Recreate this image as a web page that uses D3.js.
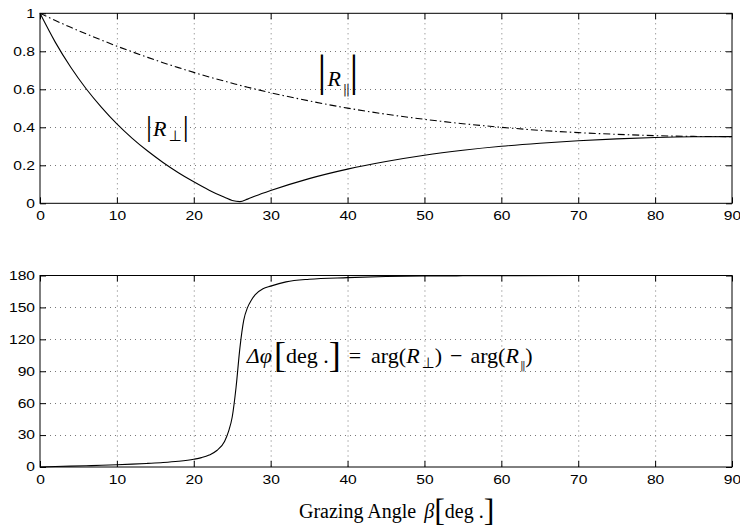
<!DOCTYPE html>
<html><head><meta charset="utf-8">
<script src="https://cdn.jsdelivr.net/npm/d3@7"></script>
<style>body{margin:0;background:#fff}svg{display:block}</style>
</head><body>
<svg id="c" width="740" height="529"></svg>
<script>
// ---- data ----
const angles = [0,2,4,6,8,10,12,14,16,18,20,22,24,25,26,27,28,30,35,40,45,50,55,60,65,70,75,80,85,90];
const rPerp  = [1,0.847,0.716,0.603,0.505,0.418,0.342,0.275,0.215,0.161,0.113,0.069,0.032,0.015,0.009,0.022,0.038,0.067,0.130,0.180,0.220,0.253,0.279,0.300,0.316,0.329,0.339,0.346,0.350,0.351];
const rPar   = [1,0.962,0.926,0.892,0.859,0.827,0.797,0.768,0.740,0.714,0.689,0.665,0.643,0.632,0.621,0.611,0.601,0.582,0.539,0.501,0.469,0.442,0.419,0.400,0.384,0.372,0.363,0.356,0.352,0.351];
const phaseAngles = [0,2,4,6,8,10,12,14,16,18,20,21,22,23,24,24.5,25,25.5,26,26.5,27,27.5,28,29,30,32,35,40,45,50,55,60,62,70,80,90];
const phaseDiff   = [0,0.4,0.8,1.2,1.6,2.1,2.7,3.4,4.2,5.4,7.3,8.8,11.2,15.5,24,33,47,75,112,138,150,157,162,167.5,170,174,176.5,178,179,179.5,179.7,179.8,179.9,180,180,180];
const xTicks = [0,10,20,30,40,50,60,70,80,90];
const yTicksTop = [0,0.2,0.4,0.6,0.8,1];
const yTickLabelsTop = ["0","0.2","0.4","0.6","0.8","1"];
const yTicksBottom = [0,30,60,90,120,150,180];

// ---- layout ----
const svg = d3.select("#c");
const L = 40, R = 732;
const panels = [
  {top: 13.3, bottom: 203.3, domain: [0,1], ticks: yTicksTop, labels: yTickLabelsTop},
  {top: 275.5, bottom: 467, domain: [0,180], ticks: yTicksBottom, labels: yTicksBottom.map(String)}
];
const x = d3.scaleLinear().domain([0,90]).range([L,R]);

function stretch(sel){
  sel.each(function(){
    const w = this.getComputedTextLength();
    d3.select(this).attr("textLength", w*1.3).attr("lengthAdjust","spacingAndGlyphs");
  });
}

const ys = panels.map(p => {
  const y = d3.scaleLinear().domain(p.domain).range([p.bottom, p.top]);
  const g = svg.append("g");
  g.append("g").selectAll("line").data(xTicks.slice(1,-1)).join("line")
    .attr("x1", d=>x(d)+0.5).attr("x2", d=>x(d)+0.5)
    .attr("y1", p.top).attr("y2", p.bottom)
    .attr("stroke","#777").attr("stroke-dasharray","1,4");
  g.append("g").selectAll("line").data(p.ticks.slice(1,-1)).join("line")
    .attr("y1", d=>Math.round(y(d))+0.5).attr("y2", d=>Math.round(y(d))+0.5)
    .attr("x1", L).attr("x2", R)
    .attr("stroke","#777").attr("stroke-dasharray","1,4");
  const font = "'Liberation Sans', Arial, sans-serif";
  const ax = g.append("g").attr("transform",`translate(0,${p.bottom})`)
    .call(d3.axisBottom(x).tickValues(xTicks).tickSizeInner(-6).tickSizeOuter(0).tickPadding(8));
  const ay = g.append("g").attr("transform",`translate(${L},0)`)
    .call(d3.axisLeft(y).tickValues(p.ticks).tickFormat((d,i)=>p.labels[i]).tickSizeInner(-6).tickSizeOuter(0).tickPadding(5));
  const at = g.append("g").attr("transform",`translate(0,${p.top})`)
    .call(d3.axisTop(x).tickValues(xTicks).tickSizeInner(-6).tickSizeOuter(0).tickFormat(""));
  const ar = g.append("g").attr("transform",`translate(${R},0)`)
    .call(d3.axisRight(y).tickValues(p.ticks).tickSizeInner(-6).tickSizeOuter(0).tickFormat(""));
  [ax,ay,at,ar].forEach(a=>{
    a.selectAll(".domain").remove();
    a.selectAll("line").attr("stroke","#000");
    a.selectAll("text").attr("font-family",font).attr("font-size",12).attr("fill","#000");
  });
  stretch(ax.selectAll("text")); stretch(ay.selectAll("text"));
  g.append("rect").attr("x",L).attr("y",p.top).attr("width",R-L).attr("height",p.bottom-p.top)
    .attr("fill","none").attr("stroke","#000").attr("stroke-width",1);
  return y;
});

const yTop = ys[0], yBot = ys[1];
const lineTop = (vals)=>d3.line().x((d,i)=>x(angles[i])).y(d=>yTop(d)).curve(d3.curveMonotoneX)(vals);
svg.append("path").attr("d", lineTop(rPerp)).attr("fill","none").attr("stroke","#000").attr("stroke-width",1.1);
svg.append("path").attr("d", lineTop(rPar)).attr("fill","none").attr("stroke","#000").attr("stroke-width",1.1)
  .attr("stroke-dasharray","7,3,1.5,3");
svg.append("path").attr("d", d3.line().x((d,i)=>x(phaseAngles[i])).y(d=>yBot(d)).curve(d3.curveMonotoneX)(phaseDiff))
  .attr("fill","none").attr("stroke","#000").attr("stroke-width",1.1);

// ---- annotations ----
const serif = "'Liberation Serif','Times New Roman',serif";
const parSym = "||";
function absLabel(xv, yv, sub, subFont, barSize, subSize, subDy, subFill, subSpacing){
  const t = svg.append("text").attr("x", x(xv)).attr("y", yTop(yv)).attr("font-family", serif).attr("fill","#000");
  t.append("tspan").attr("font-size", barSize).text("|");
  t.append("tspan").attr("font-size", 22).attr("font-style","italic").attr("dx",1).text("R");
  t.append("tspan").attr("font-size", subSize).attr("font-family", subFont).attr("fill", subFill)
    .attr("letter-spacing", subSpacing).attr("dy", subDy).attr("dx",2).text(sub);
  t.append("tspan").attr("font-size", barSize).attr("fill","#000").attr("dy", -subDy).attr("dx",1).text("|");
}
absLabel(13.8, 0.354, "\u22A5", "'DejaVu Sans',sans-serif", 30, 15, 5, "#000", 0);
absLabel(36.1, 0.62, parSym, "'DejaVu Sans',sans-serif", 44, 13, 8, "#333", -1.5);

// phase formula
const f = svg.append("text").attr("x", x(26.9)).attr("y", yBot(98)).attr("font-family", serif).attr("font-size",22).attr("fill","#000");
f.append("tspan").attr("font-style","italic").text("\u0394\u03C6");
f.append("tspan").attr("font-size",36).attr("dx",2).attr("dy",4).text("[");
f.append("tspan").attr("dy",-4).text("deg .");
f.append("tspan").attr("font-size",36).attr("dy",4).text("]");
f.append("tspan").attr("dy",-4).attr("dx",8).text("=");
f.append("tspan").attr("dx",10).text("arg(");
f.append("tspan").attr("font-style","italic").text("R");
f.append("tspan").attr("font-size",15).attr("font-family","'DejaVu Sans',sans-serif").attr("dy",5).attr("dx",2).text("\u22A5");
f.append("tspan").attr("dy",-5).text(")");
f.append("tspan").attr("dx",8).text("\u2212");
f.append("tspan").attr("dx",8).text("arg(");
f.append("tspan").attr("font-style","italic").text("R");
f.append("tspan").attr("font-size",11).attr("font-family","'DejaVu Sans',sans-serif").attr("fill","#333")
  .attr("letter-spacing",-1.5).attr("dy",6).attr("dx",1).text(parSym);
f.append("tspan").attr("dy",-6).attr("fill","#000").attr("dx",1).text(")");

// x label
const xl = svg.append("text").attr("x", 299).attr("y", 518).attr("font-family", serif).attr("font-size",20).attr("fill","#000");
xl.append("tspan").text("Grazing Angle");
xl.append("tspan").attr("dx",8).attr("font-style","italic").text("\u03B2");
xl.append("tspan").attr("font-size",32).attr("dy",3).text("[");
xl.append("tspan").attr("dy",-3).text("deg .");
xl.append("tspan").attr("font-size",32).attr("dy",3).text("]");
</script>
</body></html>
